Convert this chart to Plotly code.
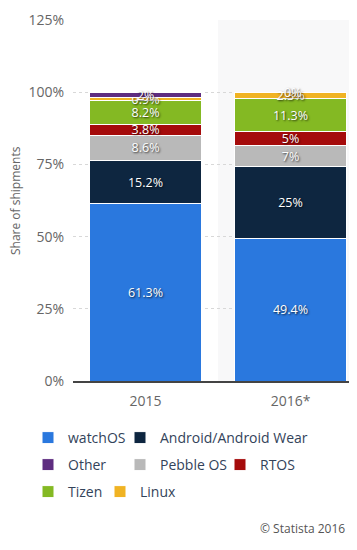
import plotly.graph_objects as go

years = ["2015", "2016*"]
series_names = ["watchOS", "Android/Android Wear", "Pebble OS", "RTOS", "Tizen", "Linux", "Other"]
watchos = [61.3, 49.4]
android = [15.2, 25]
pebble = [8.6, 7]
rtos = [3.8, 5]
tizen = [8.2, 11.3]
linux = [0.9, 2.3]
other = [2, 0]
values = [watchos, android, pebble, rtos, tizen, linux, other]
colors = ["#2a78de", "#0e2640", "#b9b9b9", "#a50b0b", "#84b923", "#f0b323", "#5e2d80"]
y_ticks = [0, 25, 50, 75, 100, 125]
y_ticktext = [f"{t}%" for t in y_ticks]
y_title = "Share of shipments"

# the page body adds an 8px offset; work in page pixels and convert
OFF = 8
W, H = 357 - OFF, 550 - OFF
L, T = 73 - OFF, 20 - OFF
R = 0
B = H - T - 361
pw = W - L - R
ph = H - T - B


def px_x(page_x):
    return (page_x - OFF - L) / pw


def px_y(page_y):
    return (H - B - (page_y - OFF)) / ph


# legend placement (text start px, row centre px) in page pixels
legend_pos = {
    "watchOS": (68, 438),
    "Android/Android Wear": (160, 438),
    "Other": (68, 465),
    "Pebble OS": (160, 465),
    "RTOS": (260, 465),
    "Tizen": (68, 492),
    "Linux": (140, 492),
}

label_font = dict(color="white", size=12.5, family="Open Sans",
                  shadow="1px 1px 2px rgba(0,0,0,0.75)")

fig = go.Figure()
layout_legends = {}
for i, (name, vals, col) in enumerate(zip(series_names, values, colors)):
    lkey = "legend" if i == 0 else f"legend{i+1}"
    fig.add_trace(go.Bar(
        x=years, y=vals, name=name,
        text=[f"{v:g}%" for v in vals], texttemplate="%{text}",
        marker=dict(color=col, line=dict(color="white", width=1)),
        textposition="inside", insidetextanchor="middle",
        constraintext="none", cliponaxis=False,
        textfont=label_font,
        legend=lkey, hoverinfo="skip",
    ))
    tx, cy = legend_pos[name]
    layout_legends[lkey] = dict(
        x=px_x(tx - 40), y=px_y(cy),
        xanchor="left", yanchor="middle", orientation="h",
        bgcolor="rgba(0,0,0,0)", borderwidth=0,
        font=dict(family="Open Sans", size=14, color="#33435a"),
    )

# labels for zero-height segments (plotly draws no text for them)
for j, yr in enumerate(years):
    cum = 0
    for vals in values:
        if vals[j] == 0:
            fig.add_annotation(x=yr, y=cum, text=f"{vals[j]:g}%", showarrow=False,
                               font=label_font, yanchor="middle", xshift=2)
        cum += vals[j]

fig.add_shape(type="rect", xref="x", yref="paper", x0=0.5, x1=1.6, y0=0, y1=1,
              fillcolor="#f8f8f9", line=dict(width=0), layer="below")

fig.add_annotation(text=y_title, xref="paper", yref="paper", x=px_x(15.5), y=0.5,
                   xanchor="center", yanchor="middle", textangle=-90, showarrow=False,
                   borderpad=0, font=dict(family="Open Sans", size=12, color="#666"))

fig.add_annotation(text="© Statista 2016", xref="paper", yref="paper",
                   x=px_x(347), y=px_y(528), xanchor="right", yanchor="middle",
                   showarrow=False, font=dict(family="Open Sans", size=12, color="#555"))

fig.update_layout(
    width=W, height=H, margin=dict(l=L, r=R, t=T, b=B, autoexpand=False),
    barmode="stack", bargap=0.228,
    plot_bgcolor="white", paper_bgcolor="white",
    font=dict(family="Open Sans", color="#666"),
    showlegend=True,
    **layout_legends,
)
fig.update_xaxes(range=[-0.5, 1.5 - 6 / 145], showline=True, linecolor="#444", linewidth=1.5,
                 tickfont=dict(size=14, color="#666"), showgrid=False, ticks="outside",
                 ticklen=6, tickcolor="rgba(0,0,0,0)", automargin=False)
fig.update_yaxes(range=[0, 125], tickmode="array", tickvals=y_ticks, ticktext=y_ticktext,
                 showgrid=True, gridcolor="#d8d8d8", griddash="dot", gridwidth=1, zeroline=False,
                 tickfont=dict(size=14, color="#666"), ticks="outside", ticklen=5,
                 tickcolor="rgba(0,0,0,0)", automargin=False)

fig.write_html("out.html")
